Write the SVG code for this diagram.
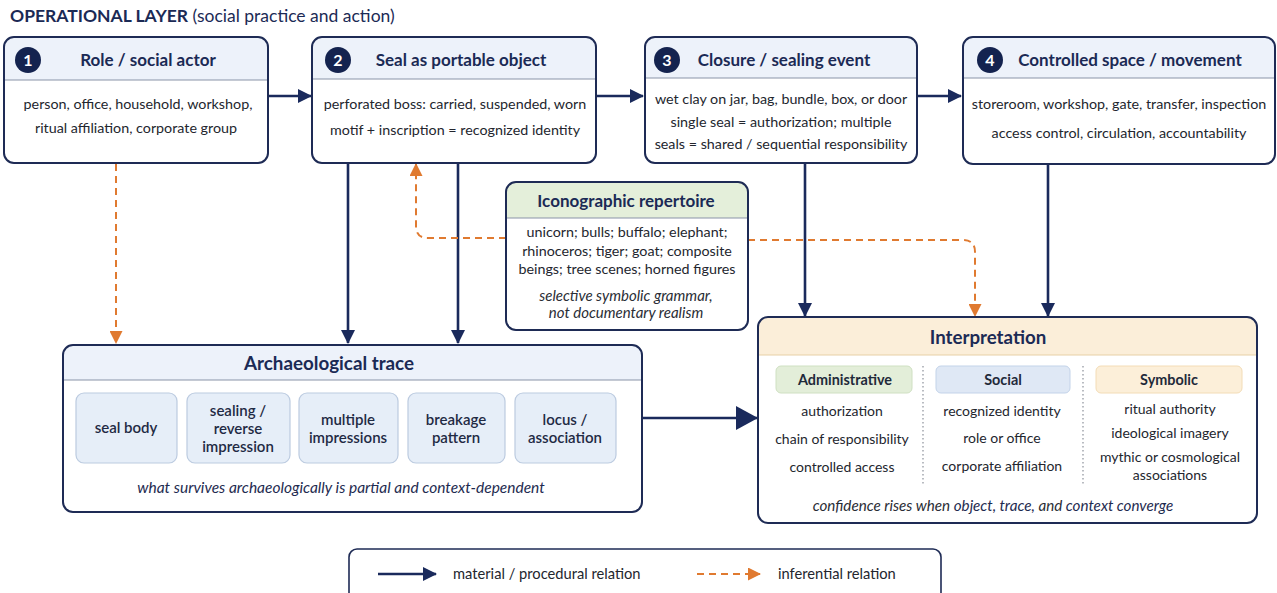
<svg xmlns="http://www.w3.org/2000/svg" width="1277" height="593" viewBox="0 0 1277 593">
<defs>
<style>
text{font-family:Lato,"Open Sans","Liberation Sans",sans-serif;fill:#23262e}
.ttl{font-size:17px;font-weight:700;fill:#1b2a55;text-anchor:middle}
.bd{font-size:14.3px;text-anchor:middle}
.cl{font-size:14px;text-anchor:middle}
.sb{font-size:15px;font-weight:600;fill:#1f2a44;text-anchor:middle}
.it{font-style:italic;text-anchor:middle;fill:#1e2b50}
.num{font-size:16px;font-weight:700;fill:#fff;text-anchor:middle}
.box{fill:none;stroke:#1e2b55;stroke-width:2}
.hdr{fill:#edf2fa}
.sep{stroke:#8a93a8;stroke-width:1.2}
.sub{fill:#e6eef8;stroke:#bccbe0;stroke-width:1.2}
.nav{fill:none;stroke:#1a2a5c;stroke-width:2.6}
.org{fill:none;stroke:#e07a30;stroke-width:2;stroke-dasharray:7 5}
.pl{font-size:14.4px;font-weight:700;fill:#1f2a3a;text-anchor:middle}
</style>
<marker id="an" markerUnits="userSpaceOnUse" markerWidth="14" markerHeight="14" refX="13" refY="7" orient="auto"><path d="M0,0 L14,7 L0,14 z" fill="#1a2a5c"/></marker>
<marker id="ao" markerUnits="userSpaceOnUse" markerWidth="13" markerHeight="13" refX="12" refY="6.5" orient="auto"><path d="M0,0 L13,6.5 L0,13 z" fill="#e07a30"/></marker>
<marker id="ab" markerUnits="userSpaceOnUse" markerWidth="22" markerHeight="24" refX="21" refY="12" orient="auto"><path d="M0,0 L22,12 L0,24 z" fill="#1a2a5c"/></marker>
</defs>
<rect width="1277" height="593" fill="#ffffff"/>

<text x="10" y="22" style="font-size:17.5px;fill:#1b2a55"><tspan font-weight="700">OPERATIONAL LAYER</tspan> (social practice and action)</text>

<g id="connectors">
<path class="nav" d="M268,96 H311" marker-end="url(#an)"/>
<path class="nav" d="M596,96 H643" marker-end="url(#an)"/>
<path class="nav" d="M917,96 H961" marker-end="url(#an)"/>
<path class="org" d="M116,164 V343" marker-end="url(#ao)"/>
<path class="nav" d="M348,163 V343" marker-end="url(#an)"/>
<path class="nav" d="M458,163 V343" marker-end="url(#an)"/>
<path class="org" d="M506,238 H428 Q416,238 416,226 V164" marker-end="url(#ao)"/>
<path class="org" d="M748,240 H963 Q975,240 975,252 V316" marker-end="url(#ao)"/>
<path class="nav" d="M805,163 V316" marker-end="url(#an)"/>
<path class="nav" d="M1048,164 V316" marker-end="url(#an)"/>
<path class="nav" d="M642,418 H757" stroke-width="3.5" marker-end="url(#ab)"/>
</g>

<g id="n1">
<rect x="4" y="37" width="264" height="126" rx="10" fill="#fff"/>
<path class="hdr" d="M4,80 V47 A10,10 0 0 1 14,37 H258 A10,10 0 0 1 268,47 V80 Z"/>
<line class="sep" x1="4" y1="80" x2="268" y2="80"/>
<rect class="box" x="4" y="37" width="264" height="126" rx="10"/>
<circle cx="28" cy="60" r="13" fill="#14234f"/>
<text class="num" x="28" y="65.5">1</text>
<text class="ttl" x="148" y="66">Role / social actor</text>
<text class="bd" x="138" y="109">person, office, household, workshop,</text>
<text class="bd" x="136" y="133">ritual affiliation, corporate group</text>
</g>

<g id="n2">
<rect x="312" y="37" width="284" height="126" rx="10" fill="#fff"/>
<path class="hdr" d="M312,79 V47 A10,10 0 0 1 322,37 H586 A10,10 0 0 1 596,47 V79 Z"/>
<line class="sep" x1="312" y1="79" x2="596" y2="79"/>
<rect class="box" x="312" y="37" width="284" height="126" rx="10"/>
<circle cx="338" cy="60" r="13" fill="#14234f"/>
<text class="num" x="338" y="65.5">2</text>
<text class="ttl" x="461" y="66">Seal as portable object</text>
<text class="bd" x="455" y="109">perforated boss: carried, suspended, worn</text>
<text class="bd" x="455" y="135">motif + inscription = recognized identity</text>
</g>

<g id="n3">
<rect x="645" y="37" width="272" height="126" rx="10" fill="#fff"/>
<path class="hdr" d="M645,78 V47 A10,10 0 0 1 655,37 H907 A10,10 0 0 1 917,47 V78 Z"/>
<line class="sep" x1="645" y1="78" x2="917" y2="78"/>
<rect class="box" x="645" y="37" width="272" height="126" rx="10"/>
<circle cx="667" cy="60" r="13" fill="#14234f"/>
<text class="num" x="667" y="65.5">3</text>
<text class="ttl" x="784" y="66">Closure / sealing event</text>
<text class="bd" x="781" y="104">wet clay on jar, bag, bundle, box, or door</text>
<text class="bd" x="781" y="127">single seal = authorization; multiple</text>
<text class="bd" x="781" y="149">seals = shared / sequential responsibility</text>
</g>

<g id="n4">
<rect x="963" y="37" width="312" height="127" rx="10" fill="#fff"/>
<path class="hdr" d="M963,78 V47 A10,10 0 0 1 973,37 H1265 A10,10 0 0 1 1275,47 V78 Z"/>
<line class="sep" x1="963" y1="78" x2="1275" y2="78"/>
<rect class="box" x="963" y="37" width="312" height="127" rx="10"/>
<circle cx="990" cy="60" r="13" fill="#14234f"/>
<text class="num" x="990" y="65.5">4</text>
<text class="ttl" x="1130" y="66">Controlled space / movement</text>
<text class="bd" x="1119" y="109">storeroom, workshop, gate, transfer, inspection</text>
<text class="bd" x="1119" y="138">access control, circulation, accountability</text>
</g>

<g id="icon">
<rect x="506" y="182" width="242" height="148" rx="10" fill="#fff"/>
<path d="M506,218 V192 A10,10 0 0 1 516,182 H738 A10,10 0 0 1 748,192 V218 Z" fill="#e4efda"/>
<line class="sep" x1="506" y1="218" x2="748" y2="218"/>
<rect class="box" x="506" y="182" width="242" height="148" rx="10"/>
<text class="ttl" x="626" y="207">Iconographic repertoire</text>
<text class="bd" x="627" y="237">unicorn; bulls; buffalo; elephant;</text>
<text class="bd" x="627" y="256">rhinoceros; tiger; goat; composite</text>
<text class="bd" x="627" y="274">beings; tree scenes; horned figures</text>
<text class="it" x="626" y="301" style="font-size:15px;fill:#2a2d35">selective symbolic grammar,</text>
<text class="it" x="626" y="318" style="font-size:15px;fill:#2a2d35">not documentary realism</text>
</g>

<g id="trace">
<rect x="63" y="345" width="579" height="167" rx="10" fill="#fff"/>
<path class="hdr" d="M63,380 V355 A10,10 0 0 1 73,345 H632 A10,10 0 0 1 642,355 V380 Z"/>
<line class="sep" x1="63" y1="380" x2="642" y2="380"/>
<rect class="box" x="63" y="345" width="579" height="167" rx="10"/>
<text class="ttl" x="329" y="369.5" style="font-size:18.8px">Archaeological trace</text>
<rect class="sub" x="76" y="393" width="101" height="70" rx="8"/>
<rect class="sub" x="187" y="393" width="103" height="70" rx="8"/>
<rect class="sub" x="299" y="393" width="99" height="70" rx="8"/>
<rect class="sub" x="408" y="393" width="97" height="70" rx="8"/>
<rect class="sub" x="515" y="393" width="101" height="70" rx="8"/>
<text class="sb" x="126" y="433">seal body</text>
<text class="sb" x="238" y="416">sealing /</text>
<text class="sb" x="238" y="434">reverse</text>
<text class="sb" x="238" y="452">impression</text>
<text class="sb" x="348" y="425">multiple</text>
<text class="sb" x="348" y="443">impressions</text>
<text class="sb" x="456" y="425">breakage</text>
<text class="sb" x="456" y="443">pattern</text>
<text class="sb" x="565" y="425">locus /</text>
<text class="sb" x="565" y="443">association</text>
<text class="it" x="341" y="493" style="font-size:15.5px">what survives archaeologically is partial and context-dependent</text>
</g>

<g id="interp">
<rect x="758" y="317" width="499" height="206" rx="10" fill="#fff"/>
<path d="M758,355 V327 A10,10 0 0 1 768,317 H1247 A10,10 0 0 1 1257,327 V355 Z" fill="#fbeed9"/>
<line x1="758" y1="355" x2="1257" y2="355" stroke="#e8cfa6" stroke-width="1.2"/>
<rect class="box" x="758" y="317" width="499" height="206" rx="10"/>
<text class="ttl" x="988" y="343.5" style="font-size:18.7px">Interpretation</text>
<rect x="776" y="366" width="136" height="27" rx="5" fill="#e3eed9" stroke="#cfe0c2"/>
<rect x="936" y="366" width="134" height="27" rx="5" fill="#dfe8f5" stroke="#c3d3e9"/>
<rect x="1096" y="366" width="146" height="27" rx="5" fill="#fcefd9" stroke="#f3dcb6"/>
<text class="pl" x="845" y="385">Administrative</text>
<text class="pl" x="1003" y="385">Social</text>
<text class="pl" x="1169" y="385">Symbolic</text>
<line x1="923" y1="366" x2="923" y2="486" stroke="#8a8f99" stroke-width="1.2" stroke-dasharray="1.5 2.5"/>
<line x1="1083" y1="366" x2="1083" y2="486" stroke="#8a8f99" stroke-width="1.2" stroke-dasharray="1.5 2.5"/>
<text class="cl" x="842" y="416">authorization</text>
<text class="cl" x="842" y="444">chain of responsibility</text>
<text class="cl" x="842" y="472">controlled access</text>
<text class="cl" x="1002" y="416">recognized identity</text>
<text class="cl" x="1002" y="443">role or office</text>
<text class="cl" x="1002" y="471">corporate affiliation</text>
<text class="cl" x="1170" y="414">ritual authority</text>
<text class="cl" x="1170" y="438">ideological imagery</text>
<text class="cl" x="1170" y="462">mythic or cosmological</text>
<text class="cl" x="1170" y="480">associations</text>
<text class="it" x="993" y="511" style="font-size:15.2px;fill:#2a2d35">confidence rises when <tspan style="fill:#1e2b50">object, trace,</tspan> and <tspan style="fill:#1e2b50">context converge</tspan></text>
</g>

<g id="legend">
<rect x="349" y="549" width="592" height="52" rx="8" fill="#fff" stroke="#1e2b55" stroke-width="1.6"/>
<path class="nav" d="M378,574 H436" marker-end="url(#an)"/>
<text x="453" y="579" style="font-size:14.7px">material / procedural relation</text>
<path class="org" d="M697,574 H760" stroke-dasharray="6 4" marker-end="url(#ao)"/>
<text x="778" y="579" style="font-size:14.7px">inferential relation</text>
</g>
</svg>
